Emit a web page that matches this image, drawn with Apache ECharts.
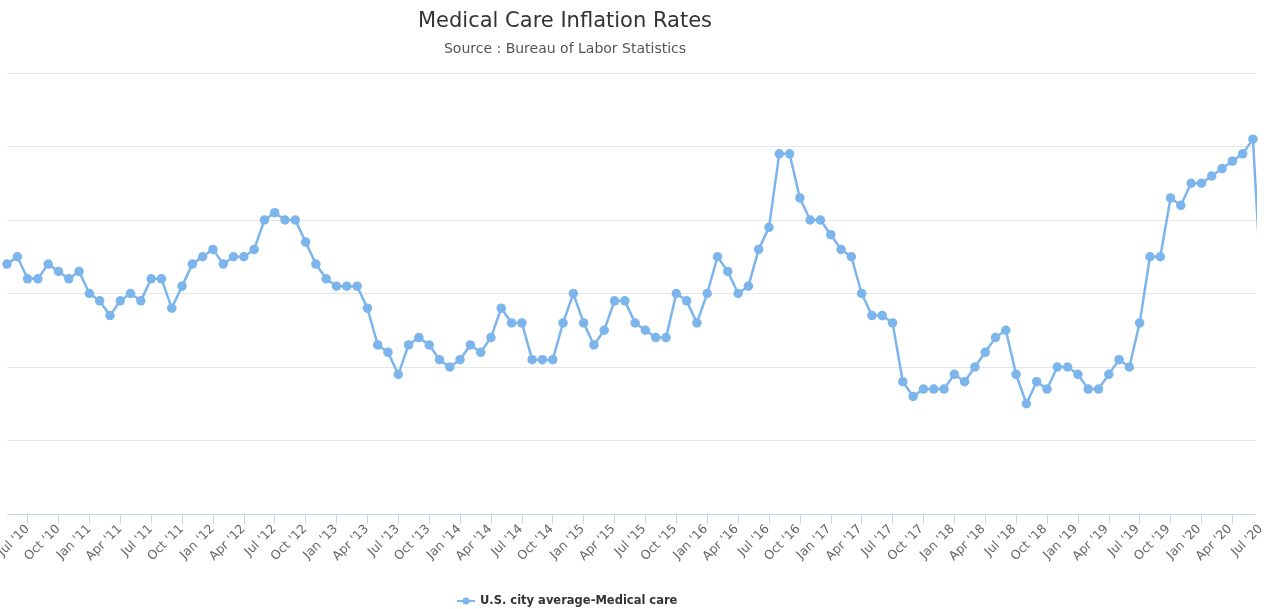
<!DOCTYPE html>
<html>
<head>
<meta charset="utf-8">
<script src="https://cdn.jsdelivr.net/npm/echarts@6/dist/echarts.min.js"></script>
<style>html,body{margin:0;padding:0;background:#fff}#c{width:1267px;height:609px}</style>
</head>
<body>
<div id="c"></div>
<script>
const titleText = "Medical Care Inflation Rates";
const subtitleText = "Source : Bureau of Labor Statistics";
const seriesName = "U.S. city average-Medical care";

// monthly values, first value = May '10
const inflation = [
  3.4, 3.5, 3.2, 3.2, 3.4, 3.3, 3.2, 3.3, 3.0, 2.9, 2.7, 2.9,
  3.0, 2.9, 3.2, 3.2, 2.8, 3.1, 3.4, 3.5, 3.6, 3.4, 3.5, 3.5,
  3.6, 4.0, 4.1, 4.0, 4.0, 3.7, 3.4, 3.2, 3.1, 3.1, 3.1, 2.8,
  2.3, 2.2, 1.9, 2.3, 2.4, 2.3, 2.1, 2.0, 2.1, 2.3, 2.2, 2.4,
  2.8, 2.6, 2.6, 2.1, 2.1, 2.1, 2.6, 3.0, 2.6, 2.3, 2.5, 2.9,
  2.9, 2.6, 2.5, 2.4, 2.4, 3.0, 2.9, 2.6, 3.0, 3.5, 3.3, 3.0,
  3.1, 3.6, 3.9, 4.9, 4.9, 4.3, 4.0, 4.0, 3.8, 3.6, 3.5, 3.0,
  2.7, 2.7, 2.6, 1.8, 1.6, 1.7, 1.7, 1.7, 1.9, 1.8, 2.0, 2.2,
  2.4, 2.5, 1.9, 1.5, 1.8, 1.7, 2.0, 2.0, 1.9, 1.7, 1.7, 1.9,
  2.1, 2.0, 2.6, 3.5, 3.5, 4.3, 4.2, 4.5, 4.5, 4.6, 4.7, 4.8,
  4.9, 5.1, 2.6
];

// quarterly tick labels, first label sits on month index 2 (Jul '10)
const tickLabels = [
  "Jul '10","Oct '10","Jan '11","Apr '11","Jul '11","Oct '11","Jan '12","Apr '12",
  "Jul '12","Oct '12","Jan '13","Apr '13","Jul '13","Oct '13","Jan '14","Apr '14",
  "Jul '14","Oct '14","Jan '15","Apr '15","Jul '15","Oct '15","Jan '16","Apr '16",
  "Jul '16","Oct '16","Jan '17","Apr '17","Jul '17","Oct '17","Jan '18","Apr '18",
  "Jul '18","Oct '18","Jan '19","Apr '19","Jul '19","Oct '19","Jan '20","Apr '20",
  "Jul '20"
];
const firstTickMonth = 2;
const monthsPerTick = 3;
const tickMonths = tickLabels.map((_, k) => firstTickMonth + k * monthsPerTick);

const yMin = 0, yMax = 6, yStep = 1;

const FONT = "DejaVu Sans";
const chart = echarts.init(document.getElementById('c'), null, {renderer: 'canvas'});

const labelFmt = v => {
  const k = Math.round((v - firstTickMonth) / monthsPerTick);
  return tickLabels[k] || '';
};

chart.setOption({
  animation: false,
  backgroundColor: '#ffffff',
  title: {
    text: titleText,
    subtext: subtitleText,
    left: 560,
    textAlign: 'center',
    top: 6,
    itemGap: 10,
    textStyle: {fontFamily: FONT, fontSize: 21, fontWeight: 'normal', color: '#333333'},
    subtextStyle: {fontFamily: FONT, fontSize: 14, color: '#555555'}
  },
  legend: {
    left: 451,
    top: 590,
    itemWidth: 18,
    itemHeight: 9,
    itemGap: 10,
    textStyle: {fontFamily: FONT, fontSize: 11.5, fontWeight: 'bold', color: '#333333'},
    data: [seriesName]
  },
  grid: [
    {left: 7, right: 12, top: 73, bottom: 95, outerBoundsMode: 'none', containLabel: false},
    {left: 7, right: 0, top: 73, bottom: 95, outerBoundsMode: 'none', containLabel: false}
  ],
  xAxis: [
    {
      type: 'value', gridIndex: 0, min: 0, max: 121.2,
      axisLine: {show: true, lineStyle: {color: '#ccd6eb', width: 1}},
      axisTick: {show: true, length: 10, lineStyle: {color: '#ccd6eb'}, customValues: tickMonths},
      axisLabel: {show: false},
      splitLine: {show: false}
    },
    {
      type: 'value', gridIndex: 1, min: 0, max: 122.6,
      axisLine: {show: false},
      axisTick: {show: false},
      axisLabel: {
        show: true, customValues: tickMonths, rotate: 45, margin: 13,
        formatter: labelFmt, color: '#666666', fontFamily: FONT, fontSize: 12.5,
        hideOverlap: false
      },
      splitLine: {show: false}
    }
  ],
  yAxis: [
    {
      type: 'value', gridIndex: 0, min: yMin, max: yMax, interval: yStep,
      axisLine: {show: false}, axisTick: {show: false}, axisLabel: {show: false},
      splitLine: {show: true, lineStyle: {color: '#e6e6e6', width: 1}}
    },
    {
      type: 'value', gridIndex: 1, min: yMin, max: yMax, show: false,
      splitLine: {show: false}
    }
  ],
  series: [{
    name: seriesName,
    type: 'line',
    xAxisIndex: 0, yAxisIndex: 0,
    data: inflation.map((v, i) => [i, v]),
    clip: true,
    symbol: 'circle',
    symbolSize: 9.5,
    showSymbol: true,
    showAllSymbol: true,
    lineStyle: {color: '#7cb5ec', width: 2.5},
    itemStyle: {color: '#7cb5ec'},
    emphasis: {disabled: true}
  }]
});
</script>
</body>
</html>
